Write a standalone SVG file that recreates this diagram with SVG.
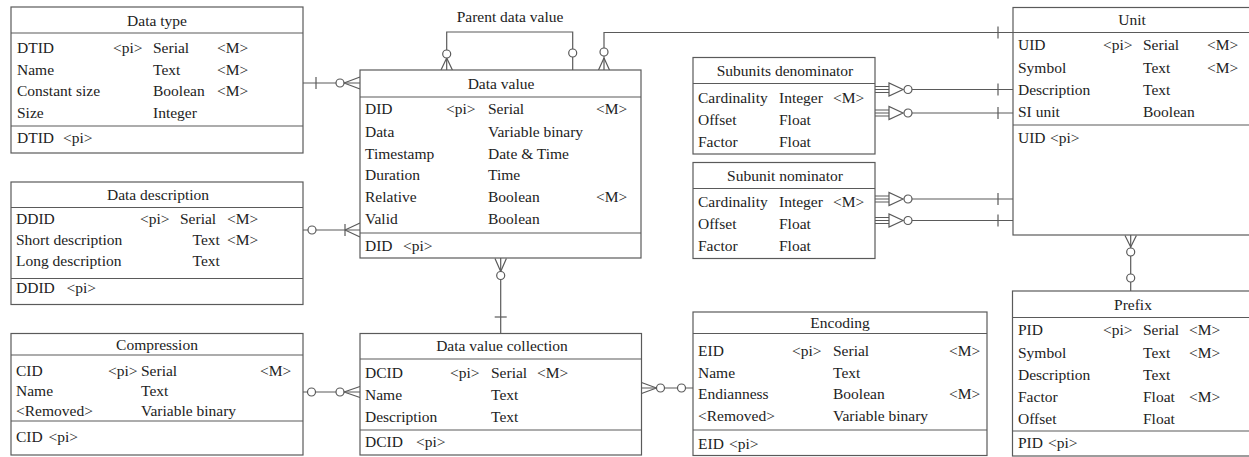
<svg xmlns="http://www.w3.org/2000/svg" width="1249" height="457" viewBox="0 0 1249 457">
<style>
.box{fill:#fff;stroke:#5a5a5a;stroke-width:1.2}
.sep{stroke:#5a5a5a;stroke-width:1.2;fill:none}
.t{font-family:"Liberation Serif","Times New Roman",serif;font-size:15.5px;fill:#222}
.c{text-anchor:middle}
.ln{stroke:#5a5a5a;stroke-width:1.2;fill:none}
.ci{fill:#fff;stroke:#5a5a5a;stroke-width:1.2}
.tri{fill:#fff;stroke:#5a5a5a;stroke-width:1.2}
</style>
<rect width="1249" height="457" fill="#fff"/>

<g id="connectors">
  <!-- Data type -> Data value -->
  <line class="ln" x1="303" y1="83" x2="360" y2="83"/>
  <line class="ln" x1="316" y1="77" x2="316" y2="89"/>
  <circle class="ci" cx="340" cy="83" r="4"/>
  <path class="ln" d="M344,83 L360,77 M344,83 L360,89"/>
  <!-- Data description -> Data value -->
  <line class="ln" x1="303" y1="230" x2="360" y2="230"/>
  <circle class="ci" cx="312" cy="230" r="4"/>
  <line class="ln" x1="345" y1="224" x2="345" y2="236"/>
  <path class="ln" d="M345,230 L360,223 M345,230 L360,237"/>
  <!-- Parent data value (self) -->
  <path class="ln" d="M446.7,70 V32 H572.7 V70"/>
  <circle class="ci" cx="446.7" cy="54" r="4"/>
  <path class="ln" d="M446.7,58 L441,70 M446.7,58 L452.4,70"/>
  <circle class="ci" cx="572.7" cy="53" r="4"/>
  <!-- Data value -> Unit -->
  <path class="ln" d="M604,70 V32.5 H1013"/>
  <circle class="ci" cx="604" cy="52" r="4"/>
  <path class="ln" d="M604,58 L598.5,70 M604,58 L609.5,70"/>
  <line class="ln" x1="998" y1="26.5" x2="998" y2="38.5"/>
  <!-- Subunits -> Unit (4 links) -->
  <g id="sub-links">
    <g transform="translate(0,89.5)">
      <path class="ln" d="M875,-3 H889 M875,0 H889 M875,3 H889"/>
      <polygon class="tri" points="889,-6.5 889,6.5 903,0"/>
      <circle class="ci" cx="908" cy="0" r="4"/>
      <line class="ln" x1="912" y1="0" x2="1013" y2="0"/>
      <line class="ln" x1="998" y1="-6" x2="998" y2="6"/>
    </g>
    <g transform="translate(0,113)">
      <path class="ln" d="M875,-3 H889 M875,0 H889 M875,3 H889"/>
      <polygon class="tri" points="889,-6.5 889,6.5 903,0"/>
      <circle class="ci" cx="908" cy="0" r="4"/>
      <line class="ln" x1="912" y1="0" x2="1013" y2="0"/>
      <line class="ln" x1="998" y1="-6" x2="998" y2="6"/>
    </g>
    <g transform="translate(0,199)">
      <path class="ln" d="M875,-3 H889 M875,0 H889 M875,3 H889"/>
      <polygon class="tri" points="889,-6.5 889,6.5 903,0"/>
      <circle class="ci" cx="908" cy="0" r="4"/>
      <line class="ln" x1="912" y1="0" x2="1013" y2="0"/>
      <line class="ln" x1="998" y1="-6" x2="998" y2="6"/>
    </g>
    <g transform="translate(0,220.5)">
      <path class="ln" d="M875,-3 H889 M875,0 H889 M875,3 H889"/>
      <polygon class="tri" points="889,-6.5 889,6.5 903,0"/>
      <circle class="ci" cx="908" cy="0" r="4"/>
      <line class="ln" x1="912" y1="0" x2="1013" y2="0"/>
      <line class="ln" x1="998" y1="-6" x2="998" y2="6"/>
    </g>
  </g>
  <!-- Data value -> Data value collection -->
  <line class="ln" x1="500.7" y1="258" x2="500.7" y2="333"/>
  <path class="ln" d="M500.7,271.5 L495,258.5 M500.7,271.5 L506.4,258.5"/>
  <circle class="ci" cx="500.7" cy="275.5" r="4"/>
  <line class="ln" x1="494.7" y1="317" x2="506.7" y2="317"/>
  <!-- Compression -> Data value collection -->
  <line class="ln" x1="303" y1="392" x2="360" y2="392"/>
  <circle class="ci" cx="311.5" cy="392" r="4"/>
  <circle class="ci" cx="340" cy="392" r="4"/>
  <path class="ln" d="M344,392 L360,386.5 M344,392 L360,397.5"/>
  <!-- Data value collection -> Encoding -->
  <line class="ln" x1="641" y1="388" x2="693" y2="388"/>
  <path class="ln" d="M641.5,382.5 L656.5,388 M641.5,393.5 L656.5,388"/>
  <circle class="ci" cx="660.5" cy="388" r="4"/>
  <circle class="ci" cx="681.5" cy="388" r="4"/>
  <!-- Unit -> Prefix -->
  <line class="ln" x1="1130.7" y1="235" x2="1130.7" y2="291"/>
  <path class="ln" d="M1125,235.5 L1130.7,247 M1136.4,235.5 L1130.7,247"/>
  <circle class="ci" cx="1130.7" cy="252" r="4"/>
  <circle class="ci" cx="1130.7" cy="278" r="4"/>
</g>

<g id="data-type">
  <rect class="box" x="11" y="7" width="292" height="146"/>
  <line class="sep" x1="11" y1="33" x2="303" y2="33"/>
  <line class="sep" x1="11" y1="126" x2="303" y2="126"/>
  <text class="t c" x="157" y="25.5">Data type</text>
  <text class="t" x="17" y="53">DTID</text><text class="t" x="113" y="53">&lt;pi&gt;</text><text class="t" x="153" y="53">Serial</text><text class="t" x="217" y="53">&lt;M&gt;</text>
  <text class="t" x="17" y="74.5">Name</text><text class="t" x="153" y="74.5">Text</text><text class="t" x="217" y="74.5">&lt;M&gt;</text>
  <text class="t" x="17" y="96">Constant size</text><text class="t" x="153" y="96">Boolean</text><text class="t" x="217" y="96">&lt;M&gt;</text>
  <text class="t" x="17" y="118">Size</text><text class="t" x="153" y="118">Integer</text>
  <text class="t" x="17" y="143">DTID</text><text class="t" x="63" y="143">&lt;pi&gt;</text>
</g>

<g id="data-value">
  <rect class="box" x="360" y="70" width="281" height="188"/>
  <line class="sep" x1="360" y1="97" x2="641" y2="97"/>
  <line class="sep" x1="360" y1="233" x2="641" y2="233"/>
  <text class="t c" x="501" y="89">Data value</text>
  <text class="t" x="365" y="114">DID</text><text class="t" x="446" y="114">&lt;pi&gt;</text><text class="t" x="488" y="114">Serial</text><text class="t" x="596" y="114">&lt;M&gt;</text>
  <text class="t" x="365" y="136.5">Data</text><text class="t" x="488" y="136.5">Variable binary</text>
  <text class="t" x="365" y="158.5">Timestamp</text><text class="t" x="488" y="158.5">Date &amp; Time</text>
  <text class="t" x="365" y="180">Duration</text><text class="t" x="488" y="180">Time</text>
  <text class="t" x="365" y="202">Relative</text><text class="t" x="488" y="202">Boolean</text><text class="t" x="596" y="202">&lt;M&gt;</text>
  <text class="t" x="365" y="224">Valid</text><text class="t" x="488" y="224">Boolean</text>
  <text class="t" x="365" y="251">DID</text><text class="t" x="403" y="251">&lt;pi&gt;</text>
  <text class="t c" x="510" y="21.5">Parent data value</text>
</g>

<g id="data-description">
  <rect class="box" x="11" y="182" width="292" height="122.5"/>
  <line class="sep" x1="11" y1="207.5" x2="303" y2="207.5"/>
  <line class="sep" x1="11" y1="278.5" x2="303" y2="278.5"/>
  <text class="t c" x="158" y="200">Data description</text>
  <text class="t" x="16" y="224">DDID</text><text class="t" x="140" y="224">&lt;pi&gt;</text><text class="t" x="180" y="224">Serial</text><text class="t" x="227" y="224">&lt;M&gt;</text>
  <text class="t" x="16" y="245">Short description</text><text class="t" x="192.5" y="245">Text</text><text class="t" x="227" y="245">&lt;M&gt;</text>
  <text class="t" x="16" y="265.5">Long description</text><text class="t" x="192.5" y="265.5">Text</text>
  <text class="t" x="16" y="293">DDID</text><text class="t" x="66.5" y="293">&lt;pi&gt;</text>
</g>

<g id="compression">
  <rect class="box" x="11" y="333.5" width="292" height="121.5"/>
  <line class="sep" x1="11" y1="355" x2="303" y2="355"/>
  <line class="sep" x1="11" y1="421" x2="303" y2="421"/>
  <text class="t c" x="157" y="350">Compression</text>
  <text class="t" x="16" y="376">CID</text><text class="t" x="108" y="376">&lt;pi&gt;</text><text class="t" x="141" y="376">Serial</text><text class="t" x="260" y="376">&lt;M&gt;</text>
  <text class="t" x="16" y="396">Name</text><text class="t" x="141" y="396">Text</text>
  <text class="t" x="16" y="416">&lt;Removed&gt;</text><text class="t" x="141" y="416">Variable binary</text>
  <text class="t" x="16" y="442">CID</text><text class="t" x="48.5" y="442">&lt;pi&gt;</text>
</g>

<g id="data-value-collection">
  <rect class="box" x="360" y="333.5" width="281.5" height="121.5"/>
  <line class="sep" x1="360" y1="359" x2="641.5" y2="359"/>
  <line class="sep" x1="360" y1="430" x2="641.5" y2="430"/>
  <text class="t c" x="502" y="351">Data value collection</text>
  <text class="t" x="365" y="378">DCID</text><text class="t" x="450" y="378">&lt;pi&gt;</text><text class="t" x="491" y="378">Serial</text><text class="t" x="537" y="378">&lt;M&gt;</text>
  <text class="t" x="365" y="399.5">Name</text><text class="t" x="491" y="399.5">Text</text>
  <text class="t" x="365" y="421.5">Description</text><text class="t" x="491" y="421.5">Text</text>
  <text class="t" x="365" y="447">DCID</text><text class="t" x="416" y="447">&lt;pi&gt;</text>
</g>

<g id="encoding">
  <rect class="box" x="693" y="312" width="294" height="143.5"/>
  <line class="sep" x1="693" y1="333.5" x2="987" y2="333.5"/>
  <line class="sep" x1="693" y1="430" x2="987" y2="430"/>
  <text class="t c" x="840" y="328">Encoding</text>
  <text class="t" x="698" y="356">EID</text><text class="t" x="792" y="356">&lt;pi&gt;</text><text class="t" x="833" y="356">Serial</text><text class="t" x="949" y="356">&lt;M&gt;</text>
  <text class="t" x="698" y="377.5">Name</text><text class="t" x="833" y="377.5">Text</text>
  <text class="t" x="698" y="399">Endianness</text><text class="t" x="833" y="399">Boolean</text><text class="t" x="949" y="399">&lt;M&gt;</text>
  <text class="t" x="698" y="421">&lt;Removed&gt;</text><text class="t" x="833" y="421">Variable binary</text>
  <text class="t" x="698" y="449">EID</text><text class="t" x="729" y="449">&lt;pi&gt;</text>
</g>

<g id="subunits-denominator">
  <rect class="box" x="693" y="57.5" width="182" height="96.5"/>
  <line class="sep" x1="693" y1="83.5" x2="875" y2="83.5"/>
  <text class="t c" x="785" y="76">Subunits denominator</text>
  <text class="t" x="698" y="103">Cardinality</text><text class="t" x="779" y="103">Integer</text><text class="t" x="833" y="103">&lt;M&gt;</text>
  <text class="t" x="698" y="125">Offset</text><text class="t" x="779" y="125">Float</text>
  <text class="t" x="698" y="147">Factor</text><text class="t" x="779" y="147">Float</text>
</g>

<g id="subunit-nominator">
  <rect class="box" x="693" y="162.5" width="182" height="96"/>
  <line class="sep" x1="693" y1="188.5" x2="875" y2="188.5"/>
  <text class="t c" x="785" y="181">Subunit nominator</text>
  <text class="t" x="698" y="207">Cardinality</text><text class="t" x="779" y="207">Integer</text><text class="t" x="833" y="207">&lt;M&gt;</text>
  <text class="t" x="698" y="229">Offset</text><text class="t" x="779" y="229">Float</text>
  <text class="t" x="698" y="251">Factor</text><text class="t" x="779" y="251">Float</text>
</g>

<g id="unit">
  <rect class="box" x="1013" y="7.5" width="250" height="227.5"/>
  <line class="sep" x1="1013" y1="32.5" x2="1263" y2="32.5"/>
  <line class="sep" x1="1013" y1="125" x2="1263" y2="125"/>
  <text class="t c" x="1132" y="25">Unit</text>
  <text class="t" x="1018" y="50">UID</text><text class="t" x="1103" y="50">&lt;pi&gt;</text><text class="t" x="1143" y="50">Serial</text><text class="t" x="1207" y="50">&lt;M&gt;</text>
  <text class="t" x="1018" y="72.5">Symbol</text><text class="t" x="1143" y="72.5">Text</text><text class="t" x="1207" y="72.5">&lt;M&gt;</text>
  <text class="t" x="1018" y="94.5">Description</text><text class="t" x="1143" y="94.5">Text</text>
  <text class="t" x="1018" y="117">SI unit</text><text class="t" x="1143" y="117">Boolean</text>
  <text class="t" x="1018" y="143">UID</text><text class="t" x="1050" y="143">&lt;pi&gt;</text>
</g>

<g id="prefix">
  <rect class="box" x="1012.5" y="291" width="250" height="165"/>
  <line class="sep" x1="1012.5" y1="317.5" x2="1263" y2="317.5"/>
  <line class="sep" x1="1012.5" y1="431" x2="1263" y2="431"/>
  <text class="t c" x="1133" y="310">Prefix</text>
  <text class="t" x="1018" y="335">PID</text><text class="t" x="1103" y="335">&lt;pi&gt;</text><text class="t" x="1143" y="335">Serial</text><text class="t" x="1189" y="335">&lt;M&gt;</text>
  <text class="t" x="1018" y="357.5">Symbol</text><text class="t" x="1143" y="357.5">Text</text><text class="t" x="1189" y="357.5">&lt;M&gt;</text>
  <text class="t" x="1018" y="380">Description</text><text class="t" x="1143" y="380">Text</text>
  <text class="t" x="1018" y="401.5">Factor</text><text class="t" x="1143" y="401.5">Float</text><text class="t" x="1189" y="401.5">&lt;M&gt;</text>
  <text class="t" x="1018" y="423.5">Offset</text><text class="t" x="1143" y="423.5">Float</text>
  <text class="t" x="1018" y="448">PID</text><text class="t" x="1048" y="448">&lt;pi&gt;</text>
</g>
</svg>
